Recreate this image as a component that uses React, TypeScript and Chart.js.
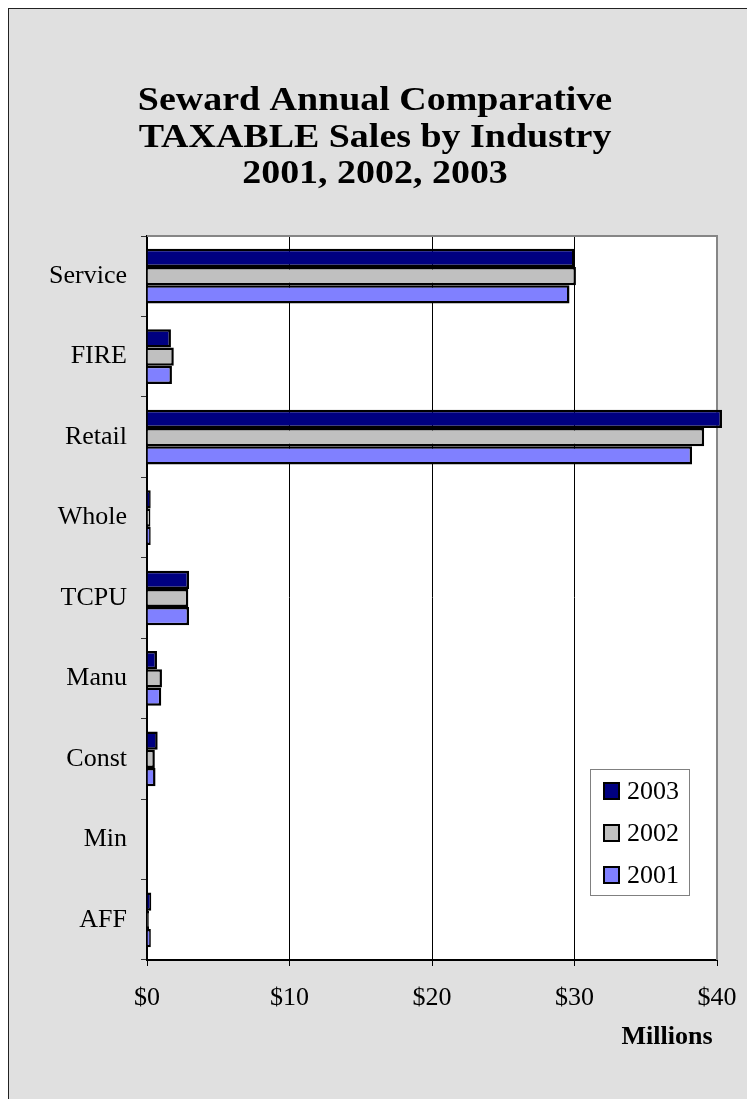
import { useEffect, useRef } from 'react';
import { Chart, registerables } from 'chart.js';

Chart.register(...registerables);

const titleLines = ['Seward Annual Comparative', 'TAXABLE Sales by Industry', '2001, 2002, 2003'];
const categories = ['Service', 'FIRE', 'Retail', 'Whole', 'TCPU', 'Manu', 'Const', 'Min', 'AFF'];
const seriesLabels = ['2003', '2002', '2001'];
const sales2003 = [30.0, 1.68, 40.35, 0.26, 2.95, 0.7, 0.75, 0, 0.3];
const sales2002 = [30.1, 1.88, 39.1, 0.24, 2.9, 1.05, 0.55, 0, 0.14];
const sales2001 = [29.65, 1.75, 38.25, 0.26, 2.95, 1.0, 0.6, 0, 0.27];
const seriesColors = ['#000080', '#c0c0c0', '#8080ff'];
const xTickValues = [0, 10, 20, 30, 40];
const axisTitle = 'Millions';

const FONT = "'Liberation Serif', 'Times New Roman', serif";

export default function App() {
  const ref = useRef<HTMLCanvasElement>(null);

  useEffect(() => {
    if (!ref.current) return;
    const deco = {
      id: 'deco',
      beforeDraw(chart: any) {
        const { ctx, chartArea: a } = chart;
        ctx.save();
        ctx.fillStyle = '#ffffff';
        ctx.fillRect(a.left, a.top, a.right - a.left, a.bottom - a.top);
        ctx.restore();
      },
      beforeDatasetsDraw(chart: any) {
        const { ctx, chartArea: a } = chart;
        ctx.save();
        ctx.strokeStyle = '#868686';
        ctx.lineWidth = 2;
        ctx.beginPath();
        ctx.moveTo(a.left, a.top);
        ctx.lineTo(a.right, a.top);
        ctx.lineTo(a.right, a.bottom);
        ctx.stroke();
        ctx.restore();
      },
      afterDraw(chart: any) {
        const { ctx } = chart;
        ctx.save();
        ctx.fillStyle = '#000';
        ctx.font = `bold 33px ${FONT}`;
        ctx.textAlign = 'center';
        ctx.textBaseline = 'middle';
        const ys = [92, 129, 165];
        titleLines.forEach((t, i) => {
          ctx.save();
          ctx.translate(366, ys[i]);
          ctx.scale(1.15, 1);
          ctx.fillText(t, 0, 0);
          ctx.restore();
        });
        ctx.font = `bold 26px ${FONT}`;
        ctx.fillText(axisTitle, 658, 1028);
        const bx = 581, by = 760, bw = 99, bh = 126;
        ctx.fillStyle = '#fff';
        ctx.fillRect(bx, by, bw, bh);
        ctx.strokeStyle = '#808080';
        ctx.lineWidth = 1;
        ctx.strokeRect(bx + 0.5, by + 0.5, bw, bh);
        ctx.font = `26px ${FONT}`;
        ctx.textAlign = 'left';
        const centers = [782, 824, 866];
        chart.data.datasets.forEach((ds: any, i: number) => {
          const cy = centers[i];
          ctx.fillStyle = ds.backgroundColor;
          ctx.fillRect(594, cy - 9, 17, 18);
          ctx.strokeStyle = '#000';
          ctx.lineWidth = 2;
          ctx.strokeRect(595, cy - 8, 15, 16);
          ctx.fillStyle = '#000';
          ctx.fillText(ds.label, 618, cy + 1);
        });
        ctx.restore();
      },
    };

    const chart = new Chart(ref.current, {
      type: 'bar',
      data: {
        labels: categories,
        datasets: [sales2003, sales2002, sales2001].map((d, i) => ({
          label: seriesLabels[i],
          data: d,
          backgroundColor: seriesColors[i],
          borderColor: '#000',
          borderWidth: 2.5,
          categoryPercentage: 0.68,
          barPercentage: 1,
          clip: false as any,
        })),
      },
      options: {
        indexAxis: 'y',
        animation: false,
        responsive: false,
        devicePixelRatio: 1,
        layout: { padding: { left: 0, top: 227, right: 30, bottom: 0 } },
        plugins: {
          legend: { display: false },
          title: { display: false },
          tooltip: { enabled: false },
        },
        scales: {
          y: {
            type: 'category',
            afterFit: (s: any) => { s.width = 138; s.paddingTop = 0; s.paddingBottom = 0; },
            grid: { drawOnChartArea: false, tickLength: 6, color: '#333', offset: true },
            border: { color: '#000', width: 2 },
            ticks: { color: '#000', padding: 14, font: { family: FONT, size: 26 } },
          },
          x: {
            type: 'linear',
            min: 0,
            max: 40,
            afterFit: (s: any) => { s.height = 139; s.paddingLeft = 0; s.paddingRight = 0; },
            afterBuildTicks: (s: any) => { s.ticks = xTickValues.map((v) => ({ value: v })); },
            grid: {
              color: (c: any) => (c.tick && (c.tick.value === 0 || c.tick.value === 40) ? 'rgba(0,0,0,0)' : '#000'),
              tickColor: '#000',
              tickLength: 6,
              lineWidth: 1,
            },
            border: { color: '#000', width: 2 },
            ticks: {
              color: '#000',
              padding: 17,
              font: { family: FONT, size: 26 },
              callback: (v: any) => '$' + v,
            },
          },
        },
      },
      plugins: [deco],
    });
    return () => chart.destroy();
  }, []);

  return (
    <div
      style={{
        position: 'absolute',
        left: 8,
        top: 8,
        width: 739,
        height: 1091,
        boxSizing: 'border-box',
        borderTop: '1px solid #222',
        borderLeft: '1px solid #222',
        background: '#e0e0e0',
      }}
    >
      <canvas ref={ref} width={738} height={1090} style={{ display: 'block', width: 738, height: 1090 }} />
    </div>
  );
}
